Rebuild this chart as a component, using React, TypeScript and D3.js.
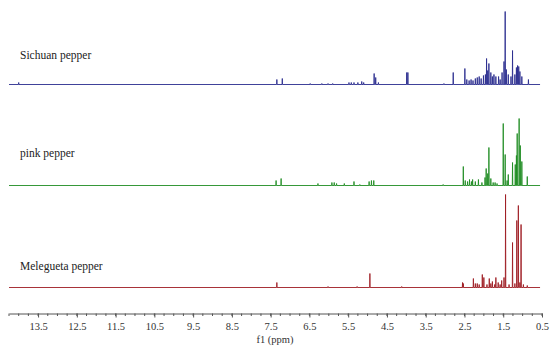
import React, { useRef, useEffect } from "react";
import * as d3 from "d3";

// peaks: [ppm, intensity]
const sichuanPeaks: [number, number][] = [
  [14.0, 2], [7.34, 5], [7.2, 6], [6.48, 1], [6.18, 1], [6.02, 1], [5.9, 1],
  [5.48, 2], [5.42, 2], [5.35, 2], [5.25, 2], [5.15, 3], [5.1, 2],
  [4.83, 11], [4.79, 7], [4.72, 2], [3.99, 12], [3.96, 12], [3.03, 1],
  [2.79, 12], [2.49, 16], [2.44, 5], [2.38, 4], [2.33, 5], [2.28, 4],
  [2.22, 6], [2.17, 7], [2.12, 8], [2.07, 6], [2.01, 9], [1.96, 10],
  [1.93, 26], [1.9, 14], [1.87, 21], [1.82, 12], [1.78, 8], [1.74, 10],
  [1.69, 8], [1.62, 8], [1.58, 5], [1.53, 12], [1.48, 23], [1.45, 73],
  [1.42, 15], [1.37, 10], [1.3, 8], [1.26, 34], [1.2, 10], [1.16, 17],
  [1.13, 19], [1.1, 18], [1.07, 13], [1.02, 8], [0.85, 5],
];

const pinkPeaks: [number, number][] = [
  [7.36, 5], [7.23, 7], [6.28, 2], [5.92, 3], [5.86, 3], [5.8, 2], [5.6, 2],
  [5.35, 4], [5.2, 1], [4.96, 4], [4.9, 5], [4.84, 5], [3.05, 1],
  [2.53, 19], [2.48, 5], [2.42, 4], [2.37, 6], [2.32, 4], [2.29, 6],
  [2.22, 4], [2.14, 6], [2.05, 3], [1.97, 8], [1.94, 17], [1.9, 12],
  [1.87, 38], [1.82, 7], [1.76, 3], [1.71, 3], [1.66, 2], [1.5, 62],
  [1.45, 31], [1.4, 5], [1.37, 11], [1.26, 23], [1.19, 21], [1.16, 30],
  [1.14, 52], [1.09, 67], [1.06, 40], [1.02, 24], [0.88, 9],
];

const meleguetaPeaks: [number, number][] = [
  [7.34, 5], [6.02, 1], [5.27, 1], [4.94, 14], [4.12, 1], [2.55, 5],
  [2.53, 4], [2.27, 9], [2.22, 4], [2.17, 4], [2.12, 3], [2.04, 13],
  [2.0, 10], [1.92, 3], [1.86, 9], [1.82, 4], [1.78, 6], [1.72, 3],
  [1.69, 10], [1.63, 5], [1.58, 3], [1.54, 7], [1.48, 10], [1.44, 93],
  [1.35, 3], [1.26, 45], [1.2, 4], [1.15, 67], [1.11, 82], [1.07, 5],
  [1.04, 63], [0.98, 3], [0.88, 2],
];

const sampleNames = ["Sichuan pepper", "pink pepper", "Melegueta pepper"];
const sampleColors = ["#2a2d8f", "#1f8c22", "#9e1c22"];
const tickLabels = [13.5, 12.5, 11.5, 10.5, 9.5, 8.5, 7.5, 6.5, 5.5, 4.5, 3.5, 2.5, 1.5, 0.5];

const App = () => {
  const svgRef = useRef(null);
  const width = 550;
  const height = 351;

  useEffect(() => {
    const svg = d3.select(svgRef.current);
    svg.selectAll("*").remove();

    const x = d3.scaleLinear().domain([14.25, 0.5]).range([9, 542]);
    const y = d3.scaleLinear().domain([0, 100]).range([0, 100]);

    const series = [sichuanPeaks, pinkPeaks, meleguetaPeaks];
    const baselines = [84, 185, 287];
    const labelY = [59, 157, 270];
    const w = 0.006;

    const line = d3.line<[number, number]>()
      .x((d) => x(d[0]))
      .y((d) => -y(d[1]));

    series.forEach((peaks, i) => {
      const sorted = peaks.slice().sort((a, b) => b[0] - a[0]);
      const pts: [number, number][] = [[14.25, 0]];
      sorted.forEach((p) => {
        pts.push([p[0] + w, 0], [p[0], p[1]], [p[0] - w, 0]);
      });
      pts.push([0.55, 0]);

      svg.append("path")
        .attr("transform", `translate(0, ${baselines[i] + 0.5})`)
        .attr("d", line(pts))
        .style("fill", "none")
        .style("stroke", sampleColors[i])
        .style("stroke-width", 0.9);

      svg.append("text")
        .attr("x", 20)
        .attr("y", labelY[i])
        .style("font-family", "'Liberation Serif', serif")
        .style("font-size", "11.5px")
        .style("fill", "#222")
        .text(sampleNames[i]);
    });

    // the axis
    const axisY = 313.5;
    const axis = d3.axisBottom(x)
      .tickValues(tickLabels)
      .tickFormat((d) => d3.format(".1f")(d))
      .tickSize(4)
      .tickSizeOuter(0)
      .tickPadding(5);

    const g = svg.append("g")
      .attr("transform", `translate(0, ${axisY})`)
      .call(axis);
    g.select(".domain").attr("stroke", "#555");
    g.selectAll(".tick line").attr("stroke", "#555");
    g.selectAll(".tick text")
      .style("font-family", "'Liberation Serif', serif")
      .style("font-size", "10.5px")
      .style("fill", "#333");

    // minor ticks
    svg.append("g")
      .attr("transform", `translate(0, ${axisY})`)
      .selectAll("line")
      .data(d3.range(14.25, 0.45, -0.25))
      .enter()
      .append("line")
      .attr("x1", (d) => x(d))
      .attr("x2", (d) => x(d))
      .attr("y1", 0)
      .attr("y2", 2.5)
      .style("stroke", "#555");

    svg.append("text")
      .attr("x", 275)
      .attr("y", 343)
      .attr("text-anchor", "middle")
      .style("font-family", "'Liberation Serif', serif")
      .style("font-size", "10.5px")
      .style("fill", "#333")
      .text("f1 (ppm)");
  }, []);

  return (
    <div>
      <svg ref={svgRef} width={width} height={height}
        style={{ position: "absolute", left: 0, top: 0, background: "#fff" }}></svg>
    </div>
  );
};

export default App;
